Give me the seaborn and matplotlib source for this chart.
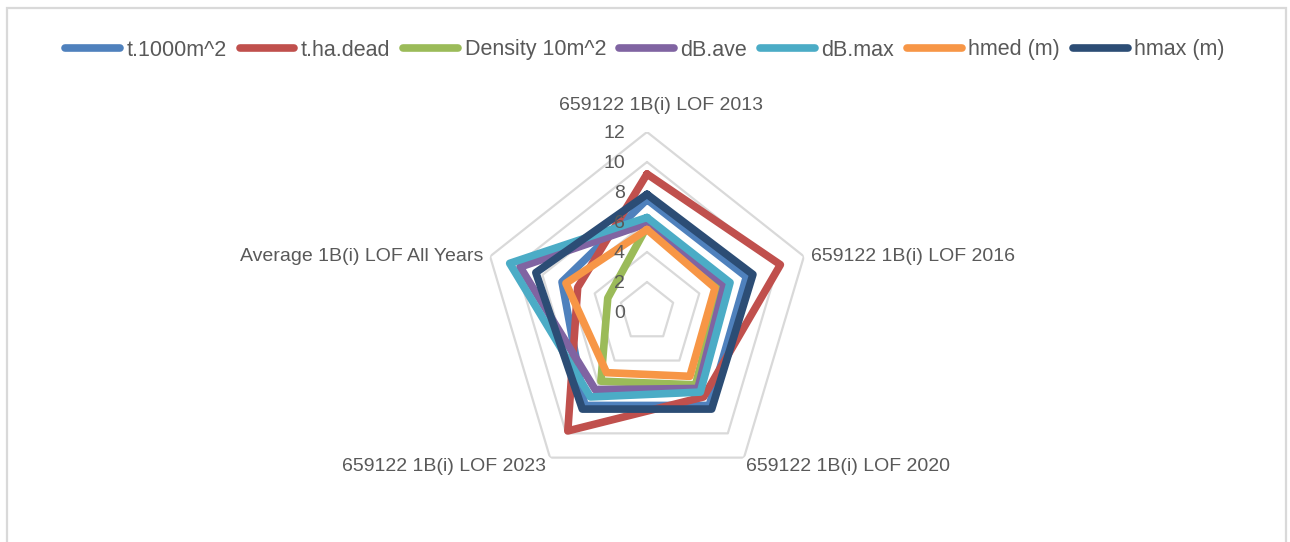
import numpy as np
import pandas as pd
import matplotlib
matplotlib.use("Agg")
import matplotlib.pyplot as plt
import matplotlib.transforms as mtransforms
from matplotlib.patches import Rectangle
import seaborn as sns

# --- Data ---
CATEGORIES = [
    '659122 1B(i) LOF 2013',
    '659122 1B(i) LOF 2016',
    '659122 1B(i) LOF 2020',
    '659122 1B(i) LOF 2023',
    'Average 1B(i) LOF All Years',
]
T_1000 = [7.5, 7.6, 7.7, 7.7, 6.5]
T_HA_DEAD = [9.2, 10.2, 7.0, 9.8, 5.3]
DENSITY = [5.7, 5.7, 6.0, 5.7, 3.0]
DB_AVE = [5.9, 5.9, 6.3, 6.4, 9.7]
DB_MAX = [6.3, 6.35, 6.6, 7.0, 10.5]
HMED = [5.5, 5.2, 5.3, 5.0, 6.2]
HMAX = [7.85, 8.1, 8.0, 8.0, 8.5]
SERIES_NAMES = ['t.1000m^2', 't.ha.dead', 'Density 10m^2', 'dB.ave',
                'dB.max', 'hmed (m)', 'hmax (m)']
R_TICKS = [0, 2, 4, 6, 8, 10, 12]

# --- Styling ---
COLORS = ['#4F81BD', '#C0504D', '#9BBB59', '#8064A2',
          '#4BACC6', '#F79646', '#2C4D75']
TEXT_COLOR = '#595959'
GRID_COLOR = '#D9D9D9'
W, H, DPI = 1290, 542, 100

sns.set_theme(style="white")
plt.rcParams['font.family'] = ['Liberation Sans', 'DejaVu Sans']

fig = plt.figure(figsize=(W / DPI, H / DPI), dpi=DPI)

# chart frame (bottom edge is cut off in the reference)
fig.add_artist(Rectangle((7 / W, -0.05), (1286 - 7) / W, 1.05 - 8 / H,
                         transform=fig.transFigure, fill=False,
                         edgecolor=GRID_COLOR, linewidth=1.6))

# polar axes, stretched a bit vertically like the reference
cx, cy, rx, ry = 647, 312, 165, 180
ax = fig.add_axes([(cx - rx) / W, (H - cy - ry) / H, 2 * rx / W, 2 * ry / H],
                  projection='polar')
ax.set_aspect('auto')
ax.set_theta_offset(np.pi / 2)
ax.set_theta_direction(-1)
ax.set_ylim(0, 12)
ax.grid(False)
ax.spines['polar'].set_visible(False)
ax.set_xticks([])
ax.set_yticks([])
ax.set_facecolor('none')

n = len(CATEGORIES)
theta = np.linspace(0, 2 * np.pi, n, endpoint=False)
theta_closed = np.append(theta, theta[0] + 2 * np.pi)

# pentagon gridlines
for r in R_TICKS[1:]:
    ax.plot(theta_closed, [r] * (n + 1), color=GRID_COLOR, linewidth=1.6, zorder=1)

# series
all_values = [T_1000, T_HA_DEAD, DENSITY, DB_AVE, DB_MAX, HMED, HMAX]
for name, vals, col in zip(SERIES_NAMES, all_values, COLORS):
    df = pd.DataFrame({'theta': theta_closed, 'value': list(vals) + [vals[0]]})
    sns.lineplot(data=df, x='theta', y='value', ax=ax, sort=False, estimator=None,
                 color=col, linewidth=4.3, label=name, zorder=3)
ax.get_legend().remove()
ax.set_xlabel('')
ax.set_ylabel('')

# radial tick labels, left of the top axis
tick_tr = mtransforms.offset_copy(ax.transData, fig=fig, x=-22, y=-1, units='dots')
for r in R_TICKS:
    ax.text(0, r, str(r), transform=tick_tr, ha='right', va='center',
            fontsize=14, color=TEXT_COLOR)

# category labels
label_pos = [
    (0, 12, 14, 18, 'center', 'bottom'),
    (theta[1], 12, 7, 0, 'left', 'center'),
    (theta[2], 12, 2, -9, 'left', 'center'),
    (theta[3], 12, -4, -9, 'right', 'center'),
    (theta[4], 12, -7, 0, 'right', 'center'),
]
for cat, (t, r, dx, dy, ha, va) in zip(CATEGORIES, label_pos):
    tr = mtransforms.offset_copy(ax.transData, fig=fig, x=dx, y=dy, units='dots')
    ax.text(t, r, cat, transform=tr, ha=ha, va=va, fontsize=14, color=TEXT_COLOR)

# legend
handles, labels = ax.get_legend_handles_labels()
for h in handles:
    h.set_linewidth(5.5)
    h.set_solid_capstyle('round')
leg = fig.legend(handles, labels, loc='center', bbox_to_anchor=(0.5, 1 - 50 / H),
                 ncol=7, frameon=False, fontsize=15.5, handlelength=2.55,
                 handletextpad=0.3, columnspacing=0.6)
for t in leg.get_texts():
    t.set_color(TEXT_COLOR)

fig.savefig('out.png', dpi=DPI, facecolor='white')
